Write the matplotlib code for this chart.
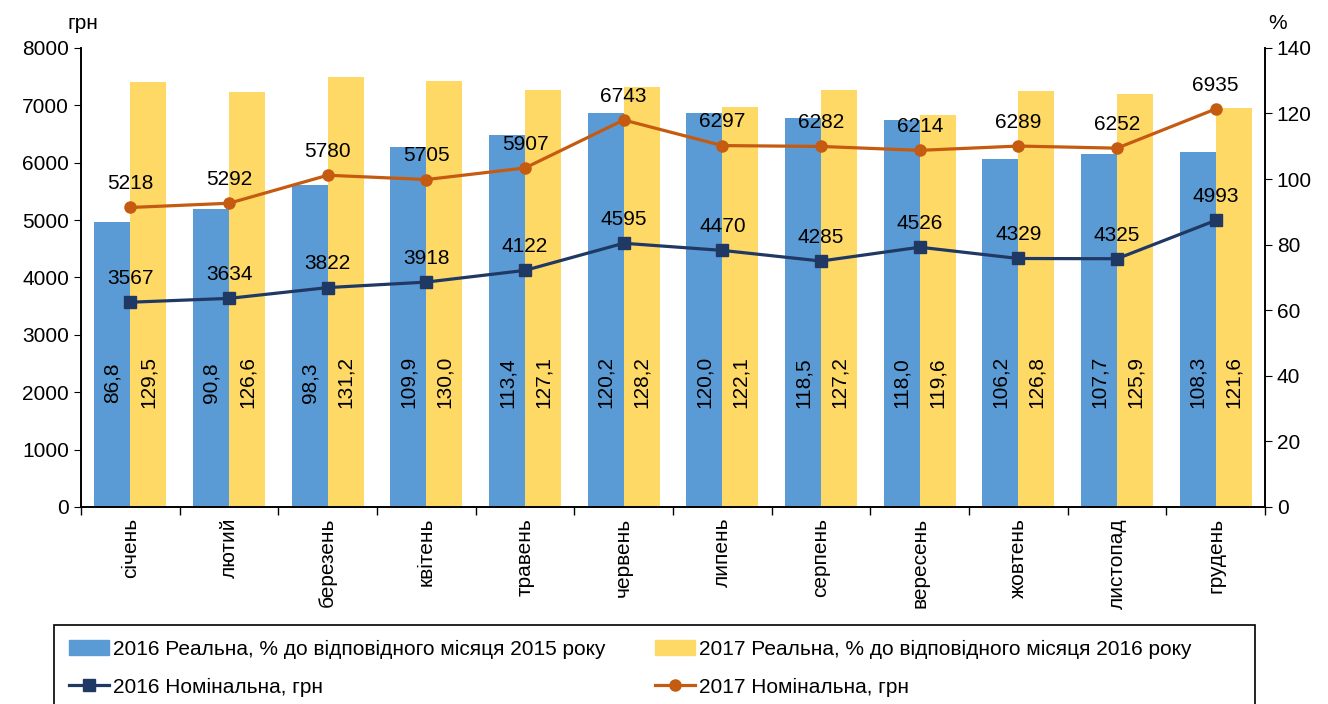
import numpy as np
import matplotlib.pyplot as plt
from matplotlib.patches import Patch, Rectangle
from matplotlib.lines import Line2D

plt.rcParams['font.family'] = ['Liberation Sans', 'DejaVu Sans']

months = ['січень', 'лютий', 'березень', 'квітень', 'травень', 'червень',
          'липень', 'серпень', 'вересень', 'жовтень', 'листопад', 'грудень']
real_2016 = [86.8, 90.8, 98.3, 109.9, 113.4, 120.2, 120.0, 118.5, 118.0, 106.2, 107.7, 108.3]
real_2017 = [129.5, 126.6, 131.2, 130.0, 127.1, 128.2, 122.1, 127.2, 119.6, 126.8, 125.9, 121.6]
nom_2016 = [3567, 3634, 3822, 3918, 4122, 4595, 4470, 4285, 4526, 4329, 4325, 4993]
nom_2017 = [5218, 5292, 5780, 5705, 5907, 6743, 6297, 6282, 6214, 6289, 6252, 6935]

c_blue = '#5B9BD5'
c_yel = '#FFD966'
c_navy = '#203864'
c_orange = '#C55A11'
fs = 15

fig = plt.figure(figsize=(13.28, 7.04), dpi=100)
ax = fig.add_axes([0.061, 0.28, 0.8916, 0.652])
ax2 = ax.twinx()
ax.set_zorder(ax2.get_zorder() + 1)
ax.patch.set_visible(False)

x = np.arange(len(months))
w = 0.365
ax2.bar(x - w / 2, real_2016, w, color=c_blue)
ax2.bar(x + w / 2, real_2017, w, color=c_yel)
ax2.set_ylim(0, 140)
ax2.set_yticks(range(0, 141, 20))

for i in range(len(months)):
    ax2.text(x[i] - w / 2, 38, f'{real_2016[i]:.1f}'.replace('.', ','), rotation=90,
             ha='center', va='center', fontsize=fs)
    ax2.text(x[i] + w / 2, 38, f'{real_2017[i]:.1f}'.replace('.', ','), rotation=90,
             ha='center', va='center', fontsize=fs)

ax.plot(x, nom_2016, color=c_navy, lw=2.3, marker='s', ms=8)
ax.plot(x, nom_2017, color=c_orange, lw=2.3, marker='o', ms=8)
for i in range(len(months)):
    ax.annotate(str(nom_2016[i]), (x[i], nom_2016[i]), xytext=(0, 17),
                textcoords='offset points', ha='center', va='center', fontsize=fs)
    ax.annotate(str(nom_2017[i]), (x[i], nom_2017[i]), xytext=(0, 17),
                textcoords='offset points', ha='center', va='center', fontsize=fs)

ax.set_ylim(0, 8000)
ax.set_yticks(range(0, 8001, 1000))
ax.set_xlim(-0.5, len(months) - 0.5)
ax.set_xticks(x)
ax.set_xticklabels(months, rotation=90, fontsize=fs)
ax.set_xticks(np.arange(-0.5, len(months)), minor=True)
ax.tick_params(axis='x', which='major', length=0, pad=8)
ax.tick_params(axis='x', which='minor', length=6, width=1)
ax.tick_params(axis='y', labelsize=fs, length=5)
ax2.tick_params(axis='y', labelsize=fs, length=5)

for a in (ax, ax2):
    a.spines['top'].set_visible(False)
    for s in ('left', 'right', 'bottom'):
        a.spines[s].set_color('black')
        a.spines[s].set_linewidth(1.2)

fig.text(0.051, 0.967, 'грн', fontsize=fs, ha='left', va='center')
fig.text(0.955, 0.967, '%', fontsize=fs, ha='left', va='center')

handles = [Patch(color=c_blue), Line2D([], [], color=c_navy, lw=2.3, marker='s', ms=8),
           Patch(color=c_yel), Line2D([], [], color=c_orange, lw=2.3, marker='o', ms=8)]
labels = ['2016 Реальна, % до відповідного місяця 2015 року', '2016 Номінальна, грн',
          '2017 Реальна, % до відповідного місяця 2016 року', '2017 Номінальна, грн']
leg = fig.legend(handles, labels, ncol=2, loc='upper left', bbox_to_anchor=(0.041, 0.112),
                 fontsize=fs, frameon=False,
                 handlelength=1.9, handletextpad=0.2, borderaxespad=0, borderpad=0.7,
                 labelspacing=0.9, columnspacing=2.4)
fig.patches.append(Rectangle((0.041, -0.05), 0.904, 0.162, transform=fig.transFigure,
                             fill=False, edgecolor='black', lw=1.2))

fig.savefig('out.png', dpi=100)
